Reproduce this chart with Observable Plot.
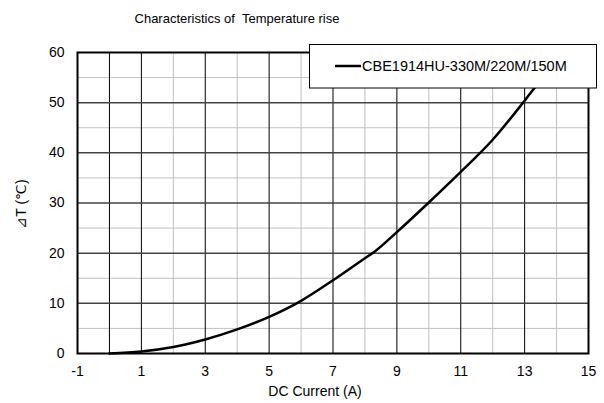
<!DOCTYPE html>
<html><head><meta charset="utf-8">
<script src="https://cdn.jsdelivr.net/npm/d3@7"></script>
<script src="https://cdn.jsdelivr.net/npm/@observablehq/plot@0.6"></script>
<style>body{margin:0;background:#fff} svg{display:block}</style>
</head><body><div id="chart"></div>
<script>
const current  = [0, 1, 2, 3, 4, 5, 6, 7, 8, 8.3, 9, 10, 11, 12, 13, 13.5];
const tempRise = [0, 0.4, 1.3, 2.8, 4.8, 7.3, 10.5, 14.6, 19, 20.3, 24.2, 30.1, 36.2, 42.6, 50.4, 54.5];
const xTicks = [-1, 1, 3, 5, 7, 9, 11, 13, 15];
const yTicks = [0, 10, 20, 30, 40, 50, 60];
const vMajor = [0, 1, 3, 5, 7, 9, 11, 13];
const vMinor = [2, 4, 6, 8, 10, 12, 14];
const hMajor = [10, 20, 30, 40, 50];
const hMinor = [5, 15, 25, 35, 45, 55];
const seriesName = "CBE1914HU-330M/220M/150M";
const titleText = "Characteristics of  Temperature rise";
const xLabel = "DC Current (A)";
const yLabel = "⊿T (℃)";

const data = current.map((x, i) => ({x, y: tempRise[i]}));
const font = "'Liberation Sans', Arial, sans-serif";

const svg = Plot.plot({
  width: 604, height: 403,
  marginLeft: 77, marginRight: 16, marginTop: 52, marginBottom: 50,
  style: {fontFamily: font, fontSize: "14px", background: "#fff", color: "#000"},
  x: {domain: [-1, 15]},
  y: {domain: [0, 60]},
  marks: [
    Plot.ruleX(vMinor, {stroke: "#c0c0c0"}),
    Plot.ruleY(hMinor, {stroke: "#c0c0c0"}),
    Plot.ruleX(vMajor, {stroke: "#000"}),
    Plot.ruleY(hMajor, {stroke: "#444", strokeWidth: 1.5}),
    Plot.line(data, {x: "x", y: "y", curve: "monotone-x", stroke: "#000", strokeWidth: 2.5}),
    Plot.frame({stroke: "#000", strokeWidth: 2}),
    Plot.axisX(xTicks, {tickSize: 0, tickPadding: 13, label: null, fontSize: 14, tickFormat: d => String(d)}),
    Plot.axisY(yTicks, {tickSize: 0, tickPadding: 13, label: null, fontSize: 14, tickFormat: d => String(d)})
  ]
});

const s = d3.select(svg);
s.append("text").attr("x", 237).attr("y", 23).attr("text-anchor", "middle")
  .attr("font-family", font).attr("font-size", 13).attr("fill", "#000").text(titleText);
s.append("text").attr("x", 315).attr("y", 396).attr("text-anchor", "middle")
  .attr("font-family", font).attr("font-size", 14).attr("fill", "#000").text(xLabel);
s.append("text").attr("transform", "translate(26,204) rotate(-90)").attr("text-anchor", "middle")
  .attr("font-family", font).attr("font-size", 14).attr("fill", "#000").text(yLabel);

const lg = s.append("g");
lg.append("rect").attr("x", 309.5).attr("y", 44.5).attr("width", 287).attr("height", 43.5)
  .attr("fill", "#fff").attr("stroke", "#000").attr("stroke-width", 1);
lg.append("line").attr("x1", 335).attr("x2", 361).attr("y1", 66).attr("y2", 66)
  .attr("stroke", "#000").attr("stroke-width", 2.5);
lg.append("text").attr("x", 362).attr("y", 71).attr("text-anchor", "start")
  .attr("font-family", font).attr("font-size", 14.5)
  .attr("fill", "#000").text(seriesName);

document.getElementById("chart").appendChild(svg);
</script>
</body></html>
